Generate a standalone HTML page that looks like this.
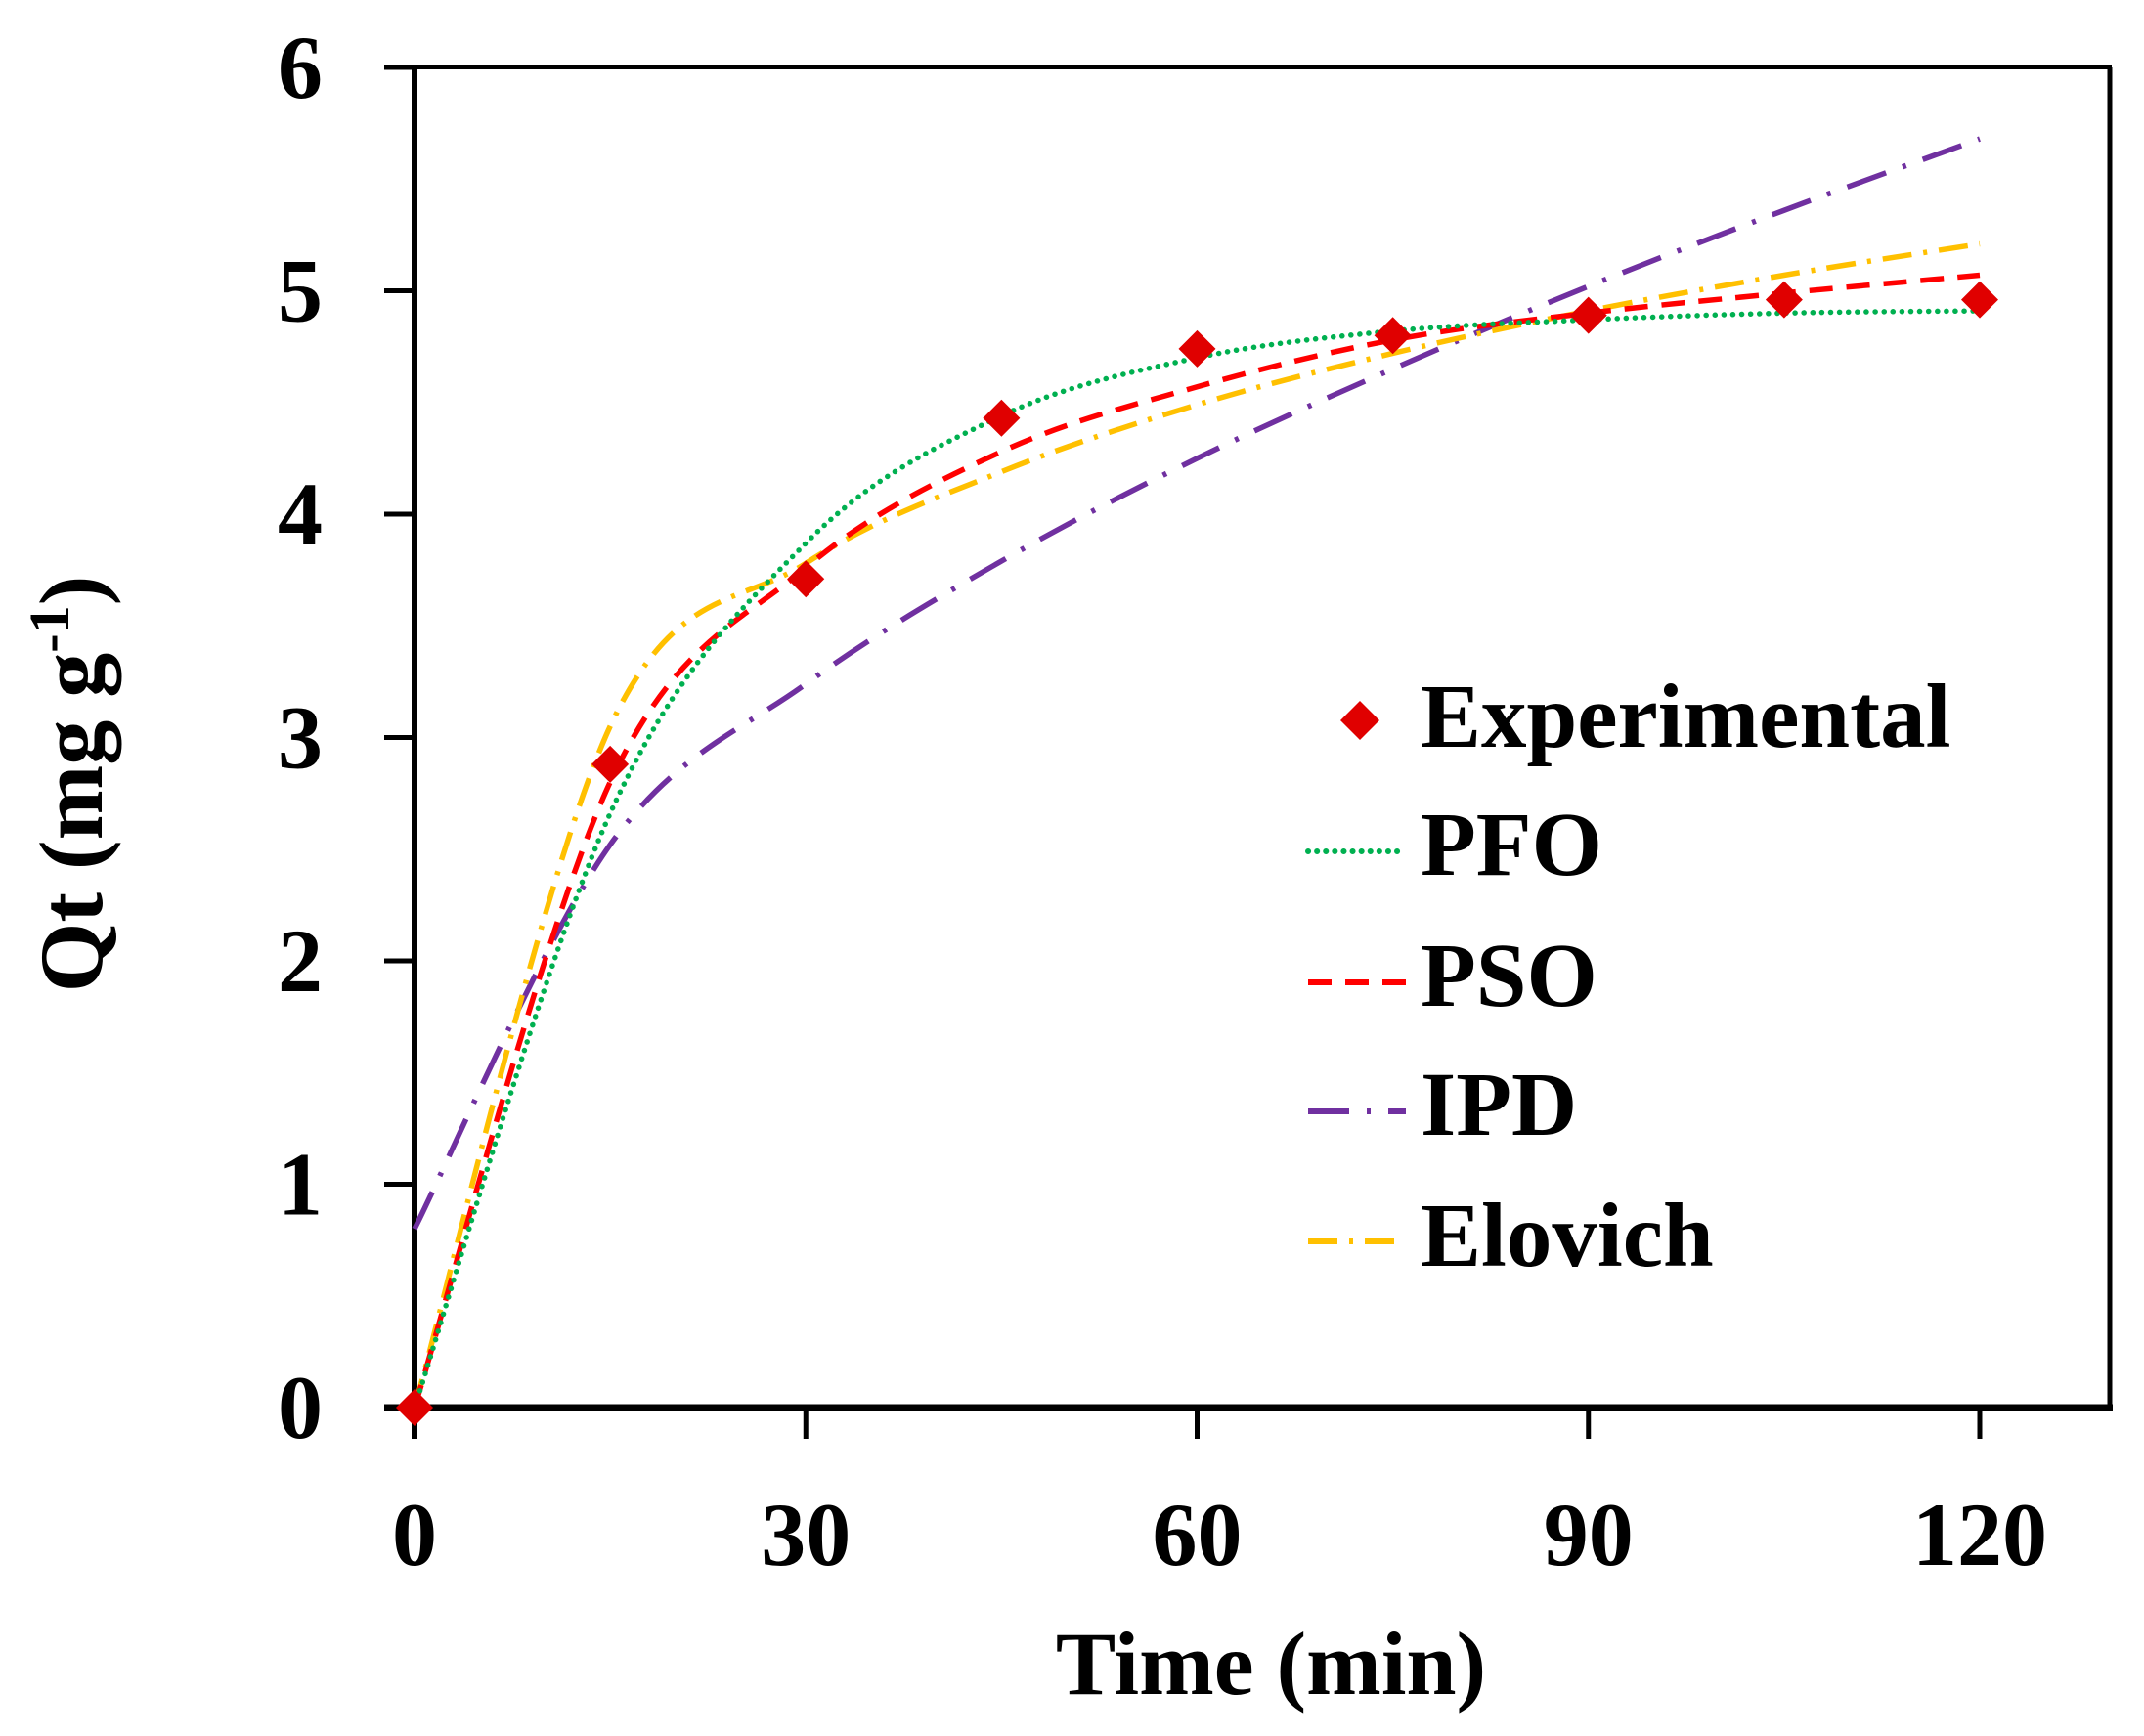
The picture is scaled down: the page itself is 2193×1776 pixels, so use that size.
<!DOCTYPE html>
<html><head><meta charset="utf-8"><style>
html,body{margin:0;padding:0;background:#fff;}
svg text{font-family:"Liberation Serif",serif;font-weight:bold;fill:#000;}
</style></head><body>
<svg id="chart" width="2193" height="1771" viewBox="0 0 2193 1771" xmlns="http://www.w3.org/2000/svg">
<g id="axes"></g>
<g id="series"></g>
<g id="legend"></g>
</svg>
<script>
const xTicks = [0, 30, 60, 90, 120];
const yTicks = [0, 1, 2, 3, 4, 5, 6];
const expTime = [0, 15, 30, 45, 60, 75, 90, 105, 120];
const expQt = [0, 2.88, 3.71, 4.43, 4.74, 4.80, 4.89, 4.96, 4.96];
const modelTime = [0, 15, 30, 45, 60, 75, 90, 105, 120];
const pfoQt = [0, 2.66, 3.87, 4.44, 4.70, 4.82, 4.87, 4.90, 4.91];
const psoQt = [0, 2.80, 3.76, 4.28, 4.57, 4.78, 4.90, 4.99, 5.07];
const ipdQt = [0.8, 2.52, 3.24, 3.79, 4.25, 4.65, 5.02, 5.36, 5.68];
const elovichQt = [0, 3.05, 3.78, 4.19, 4.49, 4.72, 4.91, 5.07, 5.21];

const NS = "http://www.w3.org/2000/svg";
const X0 = 424, X1 = 2025, Y0 = 1440, Y1 = 69, XR = 2158;
const xs = t => X0 + (t - 0) / 120 * (X1 - X0);
const ys = q => Y0 - q / 6 * (Y0 - Y1);
function mk(tag, attrs, parent) {
  const e = document.createElementNS(NS, tag);
  for (const k in attrs) e.setAttribute(k, attrs[k]);
  parent.appendChild(e);
  return e;
}
const axes = document.getElementById('axes');
const series = document.getElementById('series');
const legend = document.getElementById('legend');

let el = mk('line', {x1: 393, y1: Y1, x2: XR + 2, y2: Y1, stroke: '#000', 'stroke-width': 4}, axes);


el = mk('line', {x1: XR, y1: Y1, x2: XR, y2: Y0, stroke: '#000', 'stroke-width': 5}, axes);


el = mk('line', {x1: X0, y1: Y1 - 2, x2: X0, y2: 1472, stroke: '#000', 'stroke-width': 6}, axes);


el = mk('line', {x1: 393, y1: Y0, x2: XR + 3, y2: Y0, stroke: '#000', 'stroke-width': 7}, axes);



yTicks.forEach(v => {
  const y = ys(v);
  let t = mk('line', {x1: 393, y1: y, x2: X0, y2: y, stroke: '#000', 'stroke-width': 5}, axes);
  
  
  let l = mk('text', {x: 330, y: y + 31, 'text-anchor': 'end', 'font-size': 92}, axes);
  l.textContent = v;
  
  
});
xTicks.forEach(v => {
  const x = xs(v);
  let t = mk('line', {x1: x, y1: Y0, x2: x, y2: 1472, stroke: '#000', 'stroke-width': 5}, axes);
  
  
  let l = mk('text', {x: x, y: 1601, 'text-anchor': 'middle', 'font-size': 92}, axes);
  l.textContent = v;
  
  
});
el = mk('text', {x: 1300, y: 1733, 'text-anchor': 'middle', 'font-size': 92}, axes);
el.textContent = 'Time (min)';


el = mk('text', {x: 0, y: 0, 'text-anchor': 'middle', 'font-size': 92, transform: 'translate(104,802) rotate(-90)'}, axes);
el.innerHTML = 'Qt (mg g<tspan font-size="58" dy="-34">-1</tspan><tspan dy="34">)</tspan>';



function smoothPath(tArr, qArr) {
  const p = tArr.map((t, i) => [xs(t), ys(qArr[i])]);
  let d = 'M' + p[0][0] + ',' + p[0][1];
  for (let i = 0; i < p.length - 1; i++) {
    const p0 = p[Math.max(0, i - 1)], p1 = p[i], p2 = p[i + 1], p3 = p[Math.min(p.length - 1, i + 2)];
    const c1 = [p1[0] + (p2[0] - p0[0]) / 6, p1[1] + (p2[1] - p0[1]) / 6];
    const c2 = [p2[0] - (p3[0] - p1[0]) / 6, p2[1] - (p3[1] - p1[1]) / 6];
    d += ' C' + c1[0] + ',' + c1[1] + ' ' + c2[0] + ',' + c2[1] + ' ' + p2[0] + ',' + p2[1];
  }
  return d;
}
const styles = {
  pfo: {stroke: '#00b050', dash: '0.1 9', cap: 'round', q: pfoQt, label: 'PFO', ly: 871, ty: 895},
  pso: {stroke: '#ff0000', dash: '24 14', cap: 'butt', q: psoQt, label: 'PSO', ly: 1005, ty: 1029},
  ipd: {stroke: '#7030a0', dash: '42 18 4 18', cap: 'butt', q: ipdQt, label: 'IPD', ly: 1137, ty: 1161},
  elovich: {stroke: '#ffc000', dash: '30 12 4 12', cap: 'butt', q: elovichQt, label: 'Elovich', ly: 1270, ty: 1295}
};
['ipd', 'elovich', 'pso', 'pfo'].forEach(k => {
  const s = styles[k];
  const p = mk('path', {d: smoothPath(modelTime, s.q), fill: 'none', stroke: s.stroke, 'stroke-width': 5.5, 'stroke-dasharray': s.dash, 'stroke-linecap': s.cap}, series);
  
  
});
expTime.forEach((t, i) => {
  const x = xs(t), y = ys(expQt[i]);
  const d = mk('polygon', {points: `${x},${y - 19} ${x + 19},${y} ${x},${y + 19} ${x - 19},${y}`, fill: '#e00000'}, series);
  
  
});

el = mk('polygon', {points: '1391,717 1411,737 1391,757 1371,737', fill: '#e00000'}, legend);


el = mk('text', {x: 1453, y: 764, 'font-size': 93}, legend);
el.textContent = 'Experimental';


Object.keys(styles).forEach(k => {
  const s = styles[k];
  const l = mk('line', {x1: 1338, y1: s.ly, x2: 1438, y2: s.ly, stroke: s.stroke, 'stroke-width': 6, 'stroke-dasharray': s.dash, 'stroke-linecap': s.cap}, legend);
  
  
  const t = mk('text', {x: 1453, y: s.ty, 'font-size': 93}, legend);
  t.textContent = s.label;
  
  
});
</script>
</body></html>
